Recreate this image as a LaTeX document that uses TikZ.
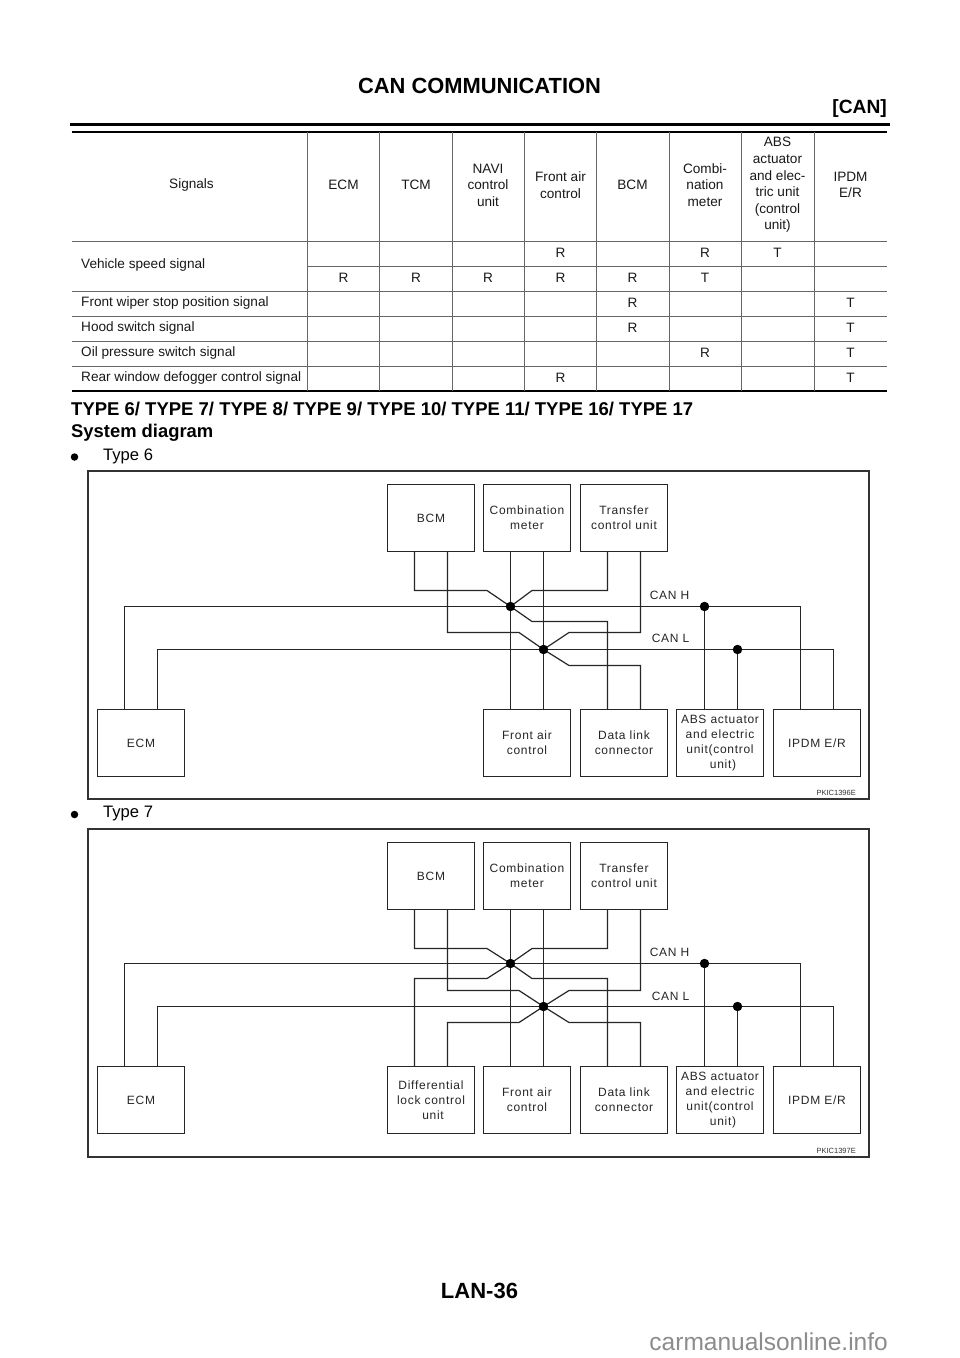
\documentclass[tikz,border=0pt]{standalone}
\usepackage{fontspec}
\setmainfont{Liberation Sans}
\newfontfamily\boxfont[LetterSpace=6]{Liberation Sans}
\tikzset{
  unit/.style={draw=black!85,line width=1.2pt,fill=white,minimum width=87pt,minimum height=67pt,inner sep=0pt,align=center,font=\boxfont\fontsize{12}{15}\selectfont,text=black!85},
  wire/.style={draw=black!85,line width=1.2pt},
  dot/.style={circle,fill=black,inner sep=0pt,minimum size=9.5pt},
  frame/.style={draw=black!80,line width=2pt},
  grid/.style={draw=black!60,line width=0.9pt},
  cell/.style={inner sep=0pt,font=\fontsize{13.6}{16}\selectfont,text=black!90},
  head/.style={inner sep=0pt,align=center,font=\fontsize{13.6}{16.6}\selectfont,text=black!90},
  tag/.style={inner sep=0pt,font=\fontsize{7.5}{9}\selectfont,text=black!80},
  canlabel/.style={inner sep=0pt,font=\boxfont\fontsize{12}{15}\selectfont,text=black!85}
}
\begin{document}
\begin{tikzpicture}[x=1pt,y=-1pt]
  \useasboundingbox (0,0) rectangle (960,1358);
  \fill[white] (0,0) rectangle (960,1358);

  % page head
  \node[inner sep=0pt,font=\bfseries\fontsize{21.9}{24}\selectfont] (title) at (479.5,86) {CAN COMMUNICATION};
  \node[inner sep=0pt,anchor=east,font=\bfseries\fontsize{19.2}{22}\selectfont] (section) at (887,109) {[CAN]};
  \draw[line width=2.4pt] (70,124.5) -- (890,124.5);

  % table
  \draw[line width=2pt] (71.5,132) -- (887,132);
  \draw[line width=2pt] (71.5,391) -- (887,391);
  \foreach \y in {241,291,316,341,366.5}
    \draw[grid] (71.5,\y) -- (887,\y);
  \draw[grid] (307.5,266) -- (887,266);
  \foreach \x in {307.5,379.5,452,524.5,596.5,669,741.5,814}
    \draw[grid] (\x,132) -- (\x,391);

  \node[head] (hsig) at (191.5,185) {Signals};
  \node[head] (hecm) at (343.5,185) {ECM};
  \node[head] (htcm) at (416,185) {TCM};
  \node[head] (hnavi) at (488,185) {NAVI\\control\\unit};
  \node[head] (hfront) at (560.5,185) {Front air\\control};
  \node[head] (hbcm) at (632.5,185) {BCM};
  \node[head] (hcombi) at (705,185) {Combi-\\nation\\meter};
  \node[head] (habs) at (777.5,185) {ABS\\actuator\\and elec-\\tric unit\\(control\\unit)};
  \node[head] (hipdm) at (850.5,185) {IPDM\\E/R};

  \node[cell,anchor=west] (speed) at (81,264.5) {Vehicle speed signal};
  \node[cell,anchor=west] (wiper) at (81,303) {Front wiper stop position signal};
  \node[cell,anchor=west] (hood) at (81,328) {Hood switch signal};
  \node[cell,anchor=west] (oil) at (81,353) {Oil pressure switch signal};
  \node[cell,anchor=west] (rear) at (81,378) {Rear window defogger control signal};

  \foreach \x/\y/\t [count=\i] in {560.5/253/R,705/253/R,777.5/253/T,
      343.5/278/R,416/278/R,488/278/R,560.5/278/R,632.5/278/R,705/278/T,
      632.5/303/R,850.5/303/T,632.5/328/R,850.5/328/T,
      705/353/R,850.5/353/T,560.5/378/R,850.5/378/T}
    \node[cell] (mark\i) at (\x,\y) {\t};

  % headings
  \node[inner sep=0pt,anchor=west,font=\bfseries\fontsize{18.5}{20}\selectfont] (types) at (71,408.5) {TYPE 6/ TYPE 7/ TYPE 8/ TYPE 9/ TYPE 10/ TYPE 11/ TYPE 16/ TYPE 17};
  \node[inner sep=0pt,anchor=west,font=\bfseries\fontsize{18.4}{20}\selectfont] (sysdiag) at (71,433) {System diagram};
  \node[circle,fill=black,inner sep=0pt,minimum size=7.5pt] (bulletA) at (74.5,457) {};
  \node[inner sep=0pt,anchor=west,font=\fontsize{16.6}{18}\selectfont] (typeA) at (103,456) {Type 6};
  \node[circle,fill=black,inner sep=0pt,minimum size=7.5pt] (bulletB) at (74.5,814.5) {};
  \node[inner sep=0pt,anchor=west,font=\fontsize{16.6}{18}\selectfont] (typeB) at (103,813.5) {Type 7};

  % type 6
  \draw[frame] (88,471) rectangle (869,799);
  \coordinate (hA) at (510.5,606.5);
  \coordinate (lA) at (543.5,649.5);
  \coordinate (habsA) at (704.5,606.5);
  \coordinate (labsA) at (737.5,649.5);

  \node[unit] (bcmA) at (431,518) {BCM};
  \node[unit] (meterA) at (527,518) {Combination\\meter};
  \node[unit] (transA) at (624,518) {Transfer\\control unit};
  \node[unit] (ecmA) at (141,743) {ECM};
  \node[unit] (airA) at (527,743) {Front air\\control};
  \node[unit] (linkA) at (624,743) {Data link\\connector};
  \node[unit] (absA) at (720,743) {ABS actuator\\and electric\hspace{2pt}\\unit(control\hspace{4pt}\\\hspace{6pt}unit)};
  \node[unit] (ipdmA) at (817,743) {IPDM E/R};

  \draw[wire] ([xshift=-16.5pt]ecmA.north) |- (habsA) -| ([xshift=-16.5pt]ipdmA.north);
  \draw[wire] ([xshift=16.5pt]ecmA.north) |- (labsA) -| ([xshift=16.5pt]ipdmA.north);
  \draw[wire] ([xshift=-16.5pt]bcmA.south) |- (487,590.5) -- (hA);
  \draw[wire] ([xshift=-16.5pt]transA.south) |- (532,590.5) -- (hA);
  \draw[wire] ([xshift=-16.5pt]linkA.north) |- (532,621.5) -- (hA);
  \draw[wire] ([xshift=16.5pt]bcmA.south) |- (519,632.5) -- (lA);
  \draw[wire] ([xshift=16.5pt]transA.south) |- (569,632.5) -- (lA);
  \draw[wire] ([xshift=16.5pt]linkA.north) |- (569,665.5) -- (lA);
  \draw[wire] ([xshift=-16.5pt]meterA.south) -- ([xshift=-16.5pt]airA.north);
  \draw[wire] ([xshift=16.5pt]meterA.south) -- ([xshift=16.5pt]airA.north);
  \draw[wire] (habsA) -- ([xshift=-15.5pt]absA.north);
  \draw[wire] (labsA) -- ([xshift=17.5pt]absA.north);

  \node[dot] (jhA) at (hA) {};
  \node[dot] (jlA) at (lA) {};
  \node[dot] (jhabsA) at (habsA) {};
  \node[dot] (jlabsA) at (labsA) {};
  \node[canlabel] (canhA) at (669.5,595) {CAN H};
  \node[canlabel] (canlA) at (670.5,638.5) {CAN L};
  \node[tag,anchor=east] (pkicA) at (856,793) {PKIC1396E};

  % type 7
  \draw[frame] (88,829) rectangle (869,1157);
  \coordinate (hB) at (510.5,963.5);
  \coordinate (lB) at (543.5,1006.5);
  \coordinate (habsB) at (704.5,963.5);
  \coordinate (labsB) at (737.5,1006.5);

  \node[unit] (bcmB) at (431,876) {BCM};
  \node[unit] (meterB) at (527,876) {Combination\\meter};
  \node[unit] (transB) at (624,876) {Transfer\\control unit};
  \node[unit] (ecmB) at (141,1100) {ECM};
  \node[unit] (diffB) at (431,1100) {Differential\\lock control\\\hspace{4pt}unit};
  \node[unit] (airB) at (527,1100) {Front air\\control};
  \node[unit] (linkB) at (624,1100) {Data link\\connector};
  \node[unit] (absB) at (720,1100) {ABS actuator\\and electric\hspace{2pt}\\unit(control\hspace{4pt}\\\hspace{6pt}unit)};
  \node[unit] (ipdmB) at (817,1100) {IPDM E/R};

  \draw[wire] ([xshift=-16.5pt]ecmB.north) |- (habsB) -| ([xshift=-16.5pt]ipdmB.north);
  \draw[wire] ([xshift=16.5pt]ecmB.north) |- (labsB) -| ([xshift=16.5pt]ipdmB.north);
  \draw[wire] ([xshift=-16.5pt]bcmB.south) |- (487,948.5) -- (hB);
  \draw[wire] ([xshift=-16.5pt]transB.south) |- (532,948.5) -- (hB);
  \draw[wire] ([xshift=-16.5pt]diffB.north) |- (487,978.5) -- (hB);
  \draw[wire] ([xshift=-16.5pt]linkB.north) |- (532,978.5) -- (hB);
  \draw[wire] ([xshift=16.5pt]bcmB.south) |- (519,990.5) -- (lB);
  \draw[wire] ([xshift=16.5pt]transB.south) |- (569,990.5) -- (lB);
  \draw[wire] ([xshift=16.5pt]diffB.north) |- (519,1022.5) -- (lB);
  \draw[wire] ([xshift=16.5pt]linkB.north) |- (569,1022.5) -- (lB);
  \draw[wire] ([xshift=-16.5pt]meterB.south) -- ([xshift=-16.5pt]airB.north);
  \draw[wire] ([xshift=16.5pt]meterB.south) -- ([xshift=16.5pt]airB.north);
  \draw[wire] (habsB) -- ([xshift=-15.5pt]absB.north);
  \draw[wire] (labsB) -- ([xshift=17.5pt]absB.north);

  \node[dot] (jhB) at (hB) {};
  \node[dot] (jlB) at (lB) {};
  \node[dot] (jhabsB) at (habsB) {};
  \node[dot] (jlabsB) at (labsB) {};
  \node[canlabel] (canhB) at (669.5,952.5) {CAN H};
  \node[canlabel] (canlB) at (670.5,996) {CAN L};
  \node[tag,anchor=east] (pkicB) at (856,1151) {PKIC1397E};

  % page foot
  \node[inner sep=0pt,font=\bfseries\fontsize{22}{24}\selectfont] (page) at (479.5,1291) {LAN-36};
  \node[inner sep=0pt,anchor=east,text=black!45,font=\fontsize{24.5}{26}\selectfont] (site) at (888,1342) {carmanualsonline.info};
\end{tikzpicture}
\end{document}
